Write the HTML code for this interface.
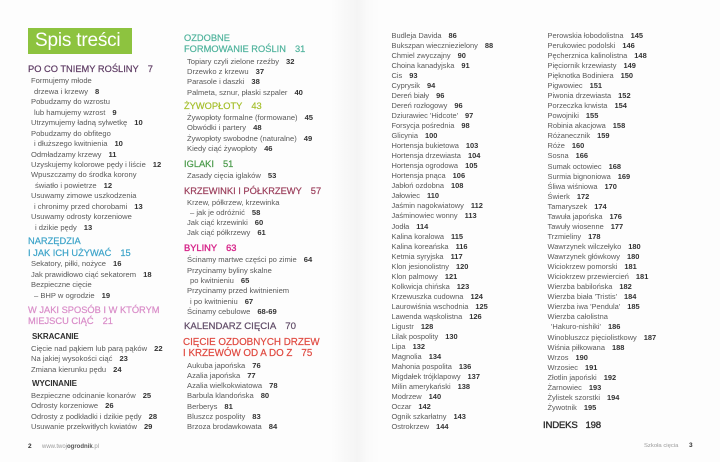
<!DOCTYPE html>
<html><head><meta charset="utf-8">
<style>
html,body{margin:0;padding:0}
body{width:720px;height:462px;position:relative;background:#fdfdfd;overflow:hidden;font-family:"Liberation Sans",sans-serif}
.gut{position:absolute;left:330px;top:0;width:50px;height:462px;background:linear-gradient(90deg,rgba(0,0,0,0) 0%,rgba(0,0,0,0.035) 55%,rgba(0,0,0,0.01) 75%,rgba(0,0,0,0) 100%)}
.box{position:absolute;left:28px;top:28px;width:104px;height:26px;background:#8dc33f;color:#fff;font-size:19px;line-height:26px;padding-left:7px;box-sizing:border-box;white-space:nowrap;letter-spacing:-0.2px}
.l{position:absolute;white-space:nowrap;font-size:7.6px;line-height:10px;height:10px;color:#5a5a5a}
.l b{color:#333;margin-left:7px;font-weight:bold}
.r{font-size:7.45px}
.h{position:absolute;white-space:nowrap;font-size:9.3px;line-height:12px;height:12px;-webkit-text-stroke:0.2px currentColor}
.h span{margin-left:9px}
.s{position:absolute;white-space:nowrap;font-size:8px;line-height:10px;font-weight:bold;color:#2e2e2e;letter-spacing:-0.1px}
.a{left:31px}.ac{left:34px}
.m{left:187px}.mc{left:190px}
.c3{left:391.5px}
.c4{left:547.5px}
.p1{color:#5d3a63;left:28px}
.p2{color:#3ba3c9;left:28px}
.p3{color:#d98cc8;left:28px}
.g1{color:#4fb39c;left:184px}
.g2{color:#a5bf2c;left:184px}
.g3{color:#4a9a4a;left:184px}
.g4{color:#9b3e5b;left:184px}
.g5{color:#d7288b;left:184px;-webkit-text-stroke:0.35px currentColor}
.g6{color:#5f4a66;left:184px;font-size:9.6px}
.g7{color:#e04a41;left:183px;font-size:9.8px}
.ft{position:absolute;white-space:nowrap;font-size:6px;line-height:8px;color:#9a9a9a}
</style></head><body>
<div class="gut"></div>

<div class="box">Spis treści</div>

<div class="h p1" style="top:63px">PO CO TNIEMY ROŚLINY<span>7</span></div>
<div class="l a" style="top:76px">Formujemy młode</div>
<div class="l ac" style="top:86.5px">drzewa i krzewy<b>8</b></div>
<div class="l a" style="top:97px">Pobudzamy do wzrostu</div>
<div class="l ac" style="top:107.5px">lub hamujemy wzrost<b>9</b></div>
<div class="l a" style="top:118px">Utrzymujemy ładną sylwetkę<b>10</b></div>
<div class="l a" style="top:128.5px">Pobudzamy do obfitego</div>
<div class="l ac" style="top:139px">i dłuższego kwitnienia<b>10</b></div>
<div class="l a" style="top:149.5px">Odmładzamy krzewy<b>11</b></div>
<div class="l a" style="top:160px">Uzyskujemy kolorowe pędy i liście<b>12</b></div>
<div class="l a" style="top:170px">Wpuszczamy do środka korony</div>
<div class="l" style="top:180.5px;left:35px">światło i powietrze<b>12</b></div>
<div class="l a" style="top:191px">Usuwamy zimowe uszkodzenia</div>
<div class="l ac" style="top:201.5px">i chronimy przed chorobami<b>13</b></div>
<div class="l a" style="top:212px">Usuwamy odrosty korzeniowe</div>
<div class="l" style="top:222.5px;left:35px">i dzikie pędy<b>13</b></div>

<div class="h p2" style="top:235px">NARZĘDZIA</div>
<div class="h p2" style="top:246.7px">I JAK ICH UŻYWAĆ<span>15</span></div>
<div class="l a" style="top:259.3px">Sekatory, piłki, nożyce<b>16</b></div>
<div class="l a" style="top:270px">Jak prawidłowo ciąć sekatorem<b>18</b></div>
<div class="l a" style="top:280.3px">Bezpieczne cięcie</div>
<div class="l ac" style="top:291px">– BHP w ogrodzie<b>19</b></div>

<div class="h p3" style="top:304px">W JAKI SPOSÓB I W KTÓRYM</div>
<div class="h p3" style="top:314.7px">MIEJSCU CIĄĆ<span>21</span></div>

<div class="s" style="top:332.3px;left:32px">SKRACANIE</div>
<div class="l a" style="top:343.7px">Cięcie nad pąkiem lub parą pąków<b>22</b></div>
<div class="l a" style="top:354.3px">Na jakiej wysokości ciąć<b>23</b></div>
<div class="l a" style="top:364.7px">Zmiana kierunku pędu<b>24</b></div>
<div class="s" style="top:379.3px;left:32px">WYCINANIE</div>
<div class="l a" style="top:390.7px">Bezpieczne odcinanie konarów<b>25</b></div>
<div class="l a" style="top:401px">Odrosty korzeniowe<b>26</b></div>
<div class="l a" style="top:412px">Odrosty z podkładki i dzikie pędy<b>28</b></div>
<div class="l a" style="top:422.3px">Usuwanie przekwitłych kwiatów<b>29</b></div>

<div class="ft" style="top:443px;left:28px;color:#333;font-weight:bold;font-size:6.5px">2</div>
<div class="ft" style="top:443px;left:42px">www.twoj<b style="color:#555">ogrodnik</b>.pl</div>

<div class="h g1" style="top:31.7px">OZDOBNE</div>
<div class="h g1" style="top:43.3px">FORMOWANIE ROŚLIN<span>31</span></div>
<div class="l m" style="top:56.5px">Topiary czyli zielone rzeźby<b>32</b></div>
<div class="l m" style="top:67px">Drzewko z krzewu<b>37</b></div>
<div class="l m" style="top:77.3px">Parasole i daszki<b>38</b></div>
<div class="l m" style="top:87.7px">Palmeta, sznur, płaski szpaler<b>40</b></div>

<div class="h g2" style="top:100px">ŻYWOPŁOTY<span>43</span></div>
<div class="l m" style="top:113.3px">Żywopłoty formalne (formowane)<b>45</b></div>
<div class="l m" style="top:123.3px">Obwódki i partery<b>48</b></div>
<div class="l m" style="top:134px">Żywopłoty swobodne (naturalne)<b>49</b></div>
<div class="l m" style="top:144.3px">Kiedy ciąć żywopłoty<b>46</b></div>

<div class="h g3" style="top:158px">IGLAKI<span>51</span></div>
<div class="l m" style="top:170.7px">Zasady cięcia iglaków<b>53</b></div>

<div class="h g4" style="top:184.7px">KRZEWINKI I PÓŁKRZEWY<span>57</span></div>
<div class="l m" style="top:197.7px">Krzew, półkrzew, krzewinka</div>
<div class="l mc" style="top:208px">– jak je odróżnić<b>58</b></div>
<div class="l m" style="top:218.3px">Jak ciąć krzewinki<b>60</b></div>
<div class="l m" style="top:228.3px">Jak ciąć półkrzewy<b>61</b></div>

<div class="h g5" style="top:242px">BYLINY<span>63</span></div>
<div class="l m" style="top:255px">Ścinamy martwe części po zimie<b>64</b></div>
<div class="l m" style="top:265.5px">Przycinamy byliny skalne</div>
<div class="l mc" style="top:276px">po kwitnieniu<b>65</b></div>
<div class="l m" style="top:286.3px">Przycinamy przed kwitnieniem</div>
<div class="l mc" style="top:296.7px">i po kwitnieniu<b>67</b></div>
<div class="l m" style="top:307px">Ścinamy cebulowe<b>68-69</b></div>

<div class="h g6" style="top:320.7px">KALENDARZ CIĘCIA<span>70</span></div>

<div class="h g7" style="top:337.3px">CIĘCIE OZDOBNYCH DRZEW</div>
<div class="h g7" style="top:348px">I KRZEWÓW OD A DO Z<span>75</span></div>
<div class="l m" style="top:360.5px">Aukuba japońska<b>76</b></div>
<div class="l m" style="top:370.8px">Azalia japońska<b>77</b></div>
<div class="l m" style="top:381.1px">Azalia wielkokwiatowa<b>78</b></div>
<div class="l m" style="top:391.4px">Barbula klandońska<b>80</b></div>
<div class="l m" style="top:401.7px">Berberys<b>81</b></div>
<div class="l m" style="top:412px">Bluszcz pospolity<b>83</b></div>
<div class="l m" style="top:422.3px">Brzoza brodawkowata<b>84</b></div>

<div class="l r c3" style="top:30.7px">Budleja Davida<b>86</b></div>
<div class="l r c3" style="top:40.7px">Bukszpan wieczniezielony<b>88</b></div>
<div class="l r c3" style="top:50.8px">Chmiel zwyczajny<b>90</b></div>
<div class="l r c3" style="top:60.8px">Choina kanadyjska<b>91</b></div>
<div class="l r c3" style="top:70.9px">Cis<b>93</b></div>
<div class="l r c3" style="top:80.9px">Cyprysik<b>94</b></div>
<div class="l r c3" style="top:90.9px">Dereń biały<b>96</b></div>
<div class="l r c3" style="top:101px">Dereń rozłogowy<b>96</b></div>
<div class="l r c3" style="top:111px">Dziurawiec 'Hidcote'<b>97</b></div>
<div class="l r c3" style="top:121.1px">Forsycja pośrednia<b>98</b></div>
<div class="l r c3" style="top:131.1px">Glicynia<b>100</b></div>
<div class="l r c3" style="top:141.1px">Hortensja bukietowa<b>103</b></div>
<div class="l r c3" style="top:151.2px">Hortensja drzewiasta<b>104</b></div>
<div class="l r c3" style="top:161.2px">Hortensja ogrodowa<b>105</b></div>
<div class="l r c3" style="top:171.3px">Hortensja pnąca<b>106</b></div>
<div class="l r c3" style="top:181.3px">Jabłoń ozdobna<b>108</b></div>
<div class="l r c3" style="top:191.3px">Jałowiec<b>110</b></div>
<div class="l r c3" style="top:201.4px">Jaśmin nagokwiatowy<b>112</b></div>
<div class="l r c3" style="top:211.4px">Jaśminowiec wonny<b>113</b></div>
<div class="l r c3" style="top:221.5px">Jodła<b>114</b></div>
<div class="l r c3" style="top:231.5px">Kalina koralowa<b>115</b></div>
<div class="l r c3" style="top:241.5px">Kalina koreańska<b>116</b></div>
<div class="l r c3" style="top:251.6px">Ketmia syryjska<b>117</b></div>
<div class="l r c3" style="top:261.6px">Klon jesionolistny<b>120</b></div>
<div class="l r c3" style="top:271.7px">Klon palmowy<b>121</b></div>
<div class="l r c3" style="top:281.7px">Kolkwicja chińska<b>123</b></div>
<div class="l r c3" style="top:291.7px">Krzewuszka cudowna<b>124</b></div>
<div class="l r c3" style="top:301.8px">Laurowiśnia wschodnia<b>125</b></div>
<div class="l r c3" style="top:311.8px">Lawenda wąskolistna<b>126</b></div>
<div class="l r c3" style="top:321.9px">Ligustr<b>128</b></div>
<div class="l r c3" style="top:331.9px">Lilak pospolity<b>130</b></div>
<div class="l r c3" style="top:341.9px">Lipa<b>132</b></div>
<div class="l r c3" style="top:352px">Magnolia<b>134</b></div>
<div class="l r c3" style="top:362px">Mahonia pospolita<b>136</b></div>
<div class="l r c3" style="top:372.1px">Migdałek trójklapowy<b>137</b></div>
<div class="l r c3" style="top:382.1px">Milin amerykański<b>138</b></div>
<div class="l r c3" style="top:392.1px">Modrzew<b>140</b></div>
<div class="l r c3" style="top:402.2px">Oczar<b>142</b></div>
<div class="l r c3" style="top:412.2px">Ognik szkarłatny<b>143</b></div>
<div class="l r c3" style="top:422.3px">Ostrokrzew<b>144</b></div>

<div class="l r c4" style="top:30.7px">Perowskia łobodolistna<b>145</b></div>
<div class="l r c4" style="top:40.8px">Perukowiec podolski<b>146</b></div>
<div class="l r c4" style="top:50.8px">Pęcherznica kalinolistna<b>148</b></div>
<div class="l r c4" style="top:60.9px">Pięciornik krzewiasty<b>149</b></div>
<div class="l r c4" style="top:70.9px">Pięknotka Bodiniera<b>150</b></div>
<div class="l r c4" style="top:81px">Pigwowiec<b>151</b></div>
<div class="l r c4" style="top:91.1px">Piwonia drzewiasta<b>152</b></div>
<div class="l r c4" style="top:101.1px">Porzeczka krwista<b>154</b></div>
<div class="l r c4" style="top:111.2px">Powojniki<b>155</b></div>
<div class="l r c4" style="top:121.2px">Robinia akacjowa<b>158</b></div>
<div class="l r c4" style="top:131.3px">Różanecznik<b>159</b></div>
<div class="l r c4" style="top:141.4px">Róże<b>160</b></div>
<div class="l r c4" style="top:151.4px">Sosna<b>166</b></div>
<div class="l r c4" style="top:161.5px">Sumak octowiec<b>168</b></div>
<div class="l r c4" style="top:171.5px">Surmia bignoniowa<b>169</b></div>
<div class="l r c4" style="top:181.6px">Śliwa wiśniowa<b>170</b></div>
<div class="l r c4" style="top:191.7px">Świerk<b>172</b></div>
<div class="l r c4" style="top:201.7px">Tamaryszek<b>174</b></div>
<div class="l r c4" style="top:211.8px">Tawuła japońska<b>176</b></div>
<div class="l r c4" style="top:221.8px">Tawuły wiosenne<b>177</b></div>
<div class="l r c4" style="top:231.9px">Trzmieliny<b>178</b></div>
<div class="l r c4" style="top:242px">Wawrzynek wilczełyko<b>180</b></div>
<div class="l r c4" style="top:252px">Wawrzynek główkowy<b>180</b></div>
<div class="l r c4" style="top:262.1px">Wiciokrzew pomorski<b>181</b></div>
<div class="l r c4" style="top:272.1px">Wiciokrzew przewiercień<b>181</b></div>
<div class="l r c4" style="top:282.2px">Wierzba babilońska<b>182</b></div>
<div class="l r c4" style="top:292.3px">Wierzba biała 'Tristis'<b>184</b></div>
<div class="l r c4" style="top:302.3px">Wierzba iwa 'Pendula'<b>185</b></div>
<div class="l r c4" style="top:312.4px">Wierzba całolistna</div>
<div class="l r" style="top:322.4px;left:551px">'Hakuro-nishiki'<b>186</b></div>
<div class="l r c4" style="top:332.5px">Winobluszcz pięciolistkowy<b>187</b></div>
<div class="l r c4" style="top:342.6px">Wiśnia piłkowana<b>188</b></div>
<div class="l r c4" style="top:352.6px">Wrzos<b>190</b></div>
<div class="l r c4" style="top:362.7px">Wrzosiec<b>191</b></div>
<div class="l r c4" style="top:372.7px">Złotlin japoński<b>192</b></div>
<div class="l r c4" style="top:382.8px">Żarnowiec<b>193</b></div>
<div class="l r c4" style="top:392.9px">Żylistek szorstki<b>194</b></div>
<div class="l r c4" style="top:402.9px">Żywotnik<b>195</b></div>

<div class="h" style="top:420px;left:543px;font-size:9.6px;color:#2e2e2e;-webkit-text-stroke:0.35px #2e2e2e;letter-spacing:-0.2px">INDEKS<span style="margin-left:8px">198</span></div>

<div class="ft" style="top:442px;left:644px;font-size:5.9px">Szkoła cięcia</div>
<div class="ft" style="top:442px;left:689px;color:#333;font-weight:bold;font-size:6.5px">3</div>
</body></html>
